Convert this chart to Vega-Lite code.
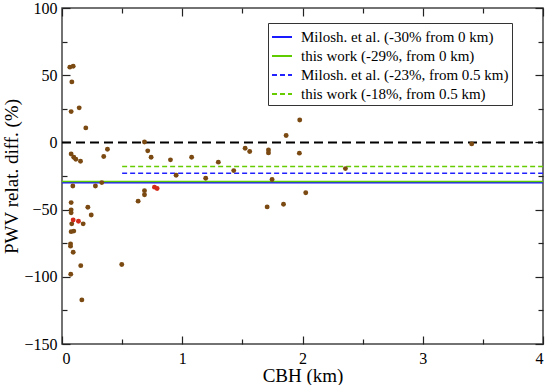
{
  "$schema": "https://vega.github.io/schema/vega-lite/v6.json",
  "autosize": {"type": "none"},
  "width": 481,
  "height": 336,
  "padding": {"left": 62, "top": 8, "right": 7, "bottom": 41},
  "background": "white",
  "config": {
    "view": {"stroke": "#444444", "strokeWidth": 1.5},
    "font": "Times New Roman, Liberation Serif, serif",
    "axis": {
      "domain": false,
      "grid": false,
      "labelFont": "Times New Roman, Liberation Serif, serif",
      "labelFontSize": 16,
      "labelColor": "black",
      "titleFont": "Times New Roman, Liberation Serif, serif",
      "titleFontSize": 19,
      "titleFontWeight": "normal",
      "titleColor": "black",
      "tickColor": "#222222",
      "tickWidth": 1.2
    },
    "legend": {
      "orient": "none", "legendX": 206, "legendY": 15, "title": null,
      "symbolType": "stroke", "symbolSize": 400, "symbolStrokeWidth": 2,
      "labelFont": "Times New Roman, Liberation Serif, serif", "labelFontSize": 15, "labelColor": "black",
      "labelLimit": 0, "labelOffset": 8, "rowPadding": 0, "padding": 3,
      "symbolOffset": 0,
      "strokeColor": "#333333", "fillColor": "white", "cornerRadius": 0
    }
  },
  "datasets": {
    "pts": [
      {"cbh": 0.065, "d": 56.0, "g": "a"},
      {"cbh": 0.093, "d": 56.7, "g": "a"},
      {"cbh": 0.082, "d": 45.0, "g": "a"},
      {"cbh": 0.076, "d": 22.9, "g": "a"},
      {"cbh": 0.143, "d": 25.7, "g": "a"},
      {"cbh": 0.198, "d": 10.8, "g": "a"},
      {"cbh": 0.076, "d": -8.6, "g": "a"},
      {"cbh": 0.098, "d": -11.0, "g": "a"},
      {"cbh": 0.115, "d": -12.5, "g": "a"},
      {"cbh": 0.154, "d": -14.0, "g": "a"},
      {"cbh": 0.347, "d": -10.5, "g": "a"},
      {"cbh": 0.378, "d": -5.1, "g": "a"},
      {"cbh": 0.686, "d": 0.3, "g": "a"},
      {"cbh": 0.713, "d": -6.3, "g": "a"},
      {"cbh": 0.741, "d": -11.0, "g": "a"},
      {"cbh": 0.902, "d": -13.0, "g": "a"},
      {"cbh": 0.949, "d": -24.4, "g": "a"},
      {"cbh": 1.078, "d": -11.0, "g": "a"},
      {"cbh": 1.195, "d": -26.7, "g": "a"},
      {"cbh": 1.300, "d": -14.7, "g": "a"},
      {"cbh": 1.428, "d": -21.0, "g": "a"},
      {"cbh": 1.523, "d": -4.4, "g": "a"},
      {"cbh": 1.561, "d": -6.8, "g": "a"},
      {"cbh": 1.717, "d": -5.6, "g": "a"},
      {"cbh": 1.717, "d": -7.8, "g": "a"},
      {"cbh": 1.864, "d": 5.1, "g": "a"},
      {"cbh": 1.977, "d": 16.7, "g": "a"},
      {"cbh": 1.974, "d": -8.0, "g": "a"},
      {"cbh": 2.357, "d": -19.5, "g": "a"},
      {"cbh": 3.407, "d": -1.1, "g": "a"},
      {"cbh": 1.747, "d": -27.6, "g": "a"},
      {"cbh": 2.027, "d": -37.5, "g": "a"},
      {"cbh": 1.706, "d": -48.0, "g": "a"},
      {"cbh": 1.842, "d": -46.0, "g": "a"},
      {"cbh": 0.090, "d": -32.4, "g": "a"},
      {"cbh": 0.278, "d": -32.4, "g": "a"},
      {"cbh": 0.331, "d": -29.9, "g": "a"},
      {"cbh": 0.686, "d": -35.9, "g": "a"},
      {"cbh": 0.686, "d": -39.0, "g": "a"},
      {"cbh": 0.769, "d": -33.3, "g": "b"},
      {"cbh": 0.791, "d": -34.3, "g": "b"},
      {"cbh": 0.633, "d": -43.7, "g": "a"},
      {"cbh": 0.076, "d": -44.8, "g": "a"},
      {"cbh": 0.076, "d": -50.2, "g": "a"},
      {"cbh": 0.076, "d": -52.4, "g": "a"},
      {"cbh": 0.215, "d": -48.2, "g": "a"},
      {"cbh": 0.243, "d": -54.0, "g": "a"},
      {"cbh": 0.093, "d": -57.7, "g": "b"},
      {"cbh": 0.137, "d": -58.7, "g": "b"},
      {"cbh": 0.081, "d": -60.6, "g": "a"},
      {"cbh": 0.176, "d": -60.6, "g": "a"},
      {"cbh": 0.076, "d": -66.4, "g": "a"},
      {"cbh": 0.098, "d": -66.0, "g": "a"},
      {"cbh": 0.071, "d": -75.5, "g": "a"},
      {"cbh": 0.071, "d": -77.2, "g": "a"},
      {"cbh": 0.093, "d": -81.7, "g": "a"},
      {"cbh": 0.156, "d": -91.7, "g": "a"},
      {"cbh": 0.497, "d": -90.9, "g": "a"},
      {"cbh": 0.073, "d": -98.1, "g": "a"},
      {"cbh": 0.165, "d": -117.2, "g": "a"}
    ],
    "lines": [
      {"s": "Milosh. et al. (-30% from 0 km)", "x0": 0, "x1": 4, "y": -30},
      {"s": "this work (-29%, from 0 km)", "x0": 0, "x1": 4, "y": -29},
      {"s": "Milosh. et al. (-23%, from 0.5 km)", "x0": 0.5, "x1": 4, "y": -23},
      {"s": "this work (-18%, from 0.5 km)", "x0": 0.5, "x1": 4, "y": -18}
    ]
  },
  "resolve": {"axis": {"x": "independent", "y": "independent"}},
  "layer": [
    {
      "data": {"name": "lines"},
      "mark": {"type": "rule", "strokeWidth": 1.5},
      "encoding": {
        "x": {"field": "x0", "type": "quantitative",
          "scale": {"domain": [0, 4], "nice": false, "zero": false},
          "axis": {"orient": "bottom", "values": [0, 1, 2, 3, 4], "offset": -8, "tickSize": 8, "labelPadding": 6, "title": "CBH (km)", "titlePadding": 0, "format": "d"}},
        "x2": {"field": "x1"},
        "y": {"field": "y", "type": "quantitative",
          "scale": {"domain": [-150, 100], "nice": false, "zero": false},
          "axis": {"orient": "left", "values": [-150, -100, -50, 0, 50, 100], "offset": -8, "tickSize": 8, "labelPadding": 5, "title": "PWV relat. diff. (%)", "titlePadding": 2, "format": "d"}},
        "color": {"field": "s", "type": "nominal",
          "scale": {"domain": ["Milosh. et al. (-30% from 0 km)", "this work (-29%, from 0 km)", "Milosh. et al. (-23%, from 0.5 km)", "this work (-18%, from 0.5 km)"],
            "range": ["#1a1aff", "#5fcc00", "#2222ff", "#66cc00"]}},
        "strokeDash": {"field": "s", "type": "nominal",
          "scale": {"domain": ["Milosh. et al. (-30% from 0 km)", "this work (-29%, from 0 km)", "Milosh. et al. (-23%, from 0.5 km)", "this work (-18%, from 0.5 km)"],
            "range": [[1, 0], [1, 0], [5, 3], [5, 3]]}}
      }
    },
    {
      "data": {"values": [{"z": 0}]},
      "mark": {"type": "rule", "strokeDash": [9, 5], "strokeWidth": 2, "color": "black"},
      "encoding": {
        "y": {"field": "z", "type": "quantitative",
          "axis": {"orient": "left", "values": [-125, -75, -25, 25, 75], "offset": -5, "tickSize": 5, "labels": false, "title": null}},
        "x": {"datum": 0, "type": "quantitative",
          "axis": {"orient": "bottom", "values": [0.5, 1.5, 2.5, 3.5], "offset": -5, "tickSize": 5, "labels": false, "title": null}},
        "x2": {"datum": 4}
      }
    },
    {
      "data": {"name": "pts"},
      "transform": [{"filter": "datum.g == 'a'"}],
      "mark": {"type": "circle", "size": 24, "opacity": 1, "color": "#7b4a12"},
      "encoding": {
        "x": {"field": "cbh", "type": "quantitative",
          "axis": {"orient": "top", "values": [0, 1, 2, 3, 4], "offset": -8, "tickSize": 8, "labels": false, "title": null}},
        "y": {"field": "d", "type": "quantitative",
          "axis": {"orient": "right", "values": [-150, -100, -50, 0, 50, 100], "offset": -8, "tickSize": 8, "labels": false, "title": null}}
      }
    },
    {
      "data": {"name": "pts"},
      "transform": [{"filter": "datum.g == 'b'"}],
      "mark": {"type": "circle", "size": 24, "opacity": 1, "color": "#d42a1a"},
      "encoding": {
        "x": {"field": "cbh", "type": "quantitative",
          "axis": {"orient": "top", "values": [0.5, 1.5, 2.5, 3.5], "offset": -5, "tickSize": 5, "labels": false, "title": null}},
        "y": {"field": "d", "type": "quantitative",
          "axis": {"orient": "right", "values": [-125, -75, -25, 25, 75], "offset": -5, "tickSize": 5, "labels": false, "title": null}}
      }
    }
  ]
}
